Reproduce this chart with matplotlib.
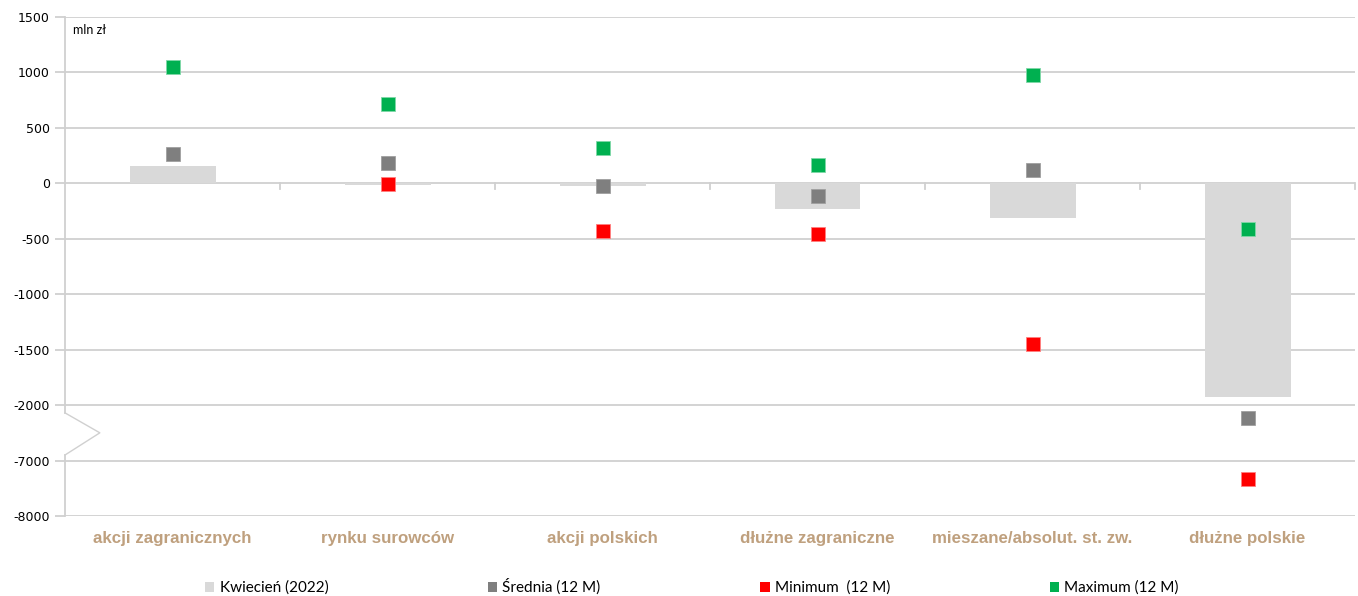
import numpy as np
import matplotlib
matplotlib.use("Agg")
import matplotlib.pyplot as plt
from matplotlib.patches import Patch
import matplotlib.transforms as mtransforms

categories = ["akcji zagranicznych", "rynku surowców", "akcji polskich",
              "dłużne zagraniczne", "mieszane/absolut. st. zw.", "dłużne polskie"]
kwiecien = [160, -18, -25, -230, -315, -1930]
srednia = [265, 185, -23, -113, 122, -3170]
minimum = [np.nan, -5, -429, -456, -1449, -7335]
maximum = [1050, 717, 320, 167, 979, -411]

ytick_vals = [1500, 1000, 500, 0, -500, -1000, -1500, -2000, -7000, -8000]
legend_labels = ["Kwiecień (2022)", "Średnia (12 M)", "Minimum  (12 M)", "Maximum (12 M)"]

# broken axis mapping: real values -> display values
real_pts = [-8000, -7000, -2000, 1500]
disp_pts = [-3000, -2500, -2000, 1500]
def fwd(v):
    return np.interp(v, real_pts, disp_pts)
def inv(d):
    return np.interp(d, disp_pts, real_pts)

plt.rcParams['font.family'] = ['Lato', 'DejaVu Sans']

fig = plt.figure(figsize=(13.58, 5.96), dpi=100)
ax = fig.add_axes([65/1358, 1 - 516/596, 1290/1358, (516 - 17)/596])
ax.set_yscale('function', functions=(fwd, inv))
ax.set_ylim(-8000, 1500)
ax.set_xlim(-0.5, len(categories) - 0.5)

x = np.arange(len(categories))
grid_c = '#D0D0D0'
for v in ytick_vals:
    ax.axhline(v, color=grid_c, lw=1.3, zorder=0)

ax.bar(x, kwiecien, width=0.4, color='#D9D9D9', zorder=2)

ms = 10
ax.plot(x, srednia, 's', color='#7F7F7F', ms=ms, mec='#A0A0A0', mew=0.6, ls='none', zorder=4)
ax.plot(x, minimum, 's', color='#FF0000', ms=ms, mec='#FF8080', mew=0.6, ls='none', zorder=4)
ax.plot(x, maximum, 's', color='#00B050', ms=ms, mec='#80D8A8', mew=0.6, ls='none', zorder=4)

# category boundary ticks on the zero line
for b in np.arange(-0.5, len(categories), 1.0)[1:]:
    ax.plot([b, b], [0, -50], color=grid_c, lw=1.3, zorder=1, clip_on=False)

# left spine with break mark
for s in ax.spines.values():
    s.set_visible(False)
trans = mtransforms.blended_transform_factory(ax.transAxes, ax.transData)
ax.plot([0, 0], [1500, -2700], color=grid_c, lw=1.3, transform=trans, clip_on=False)
ax.plot([0, 0.027, 0], [-2700, -4500, -6500], color=grid_c, lw=1.0, transform=trans, clip_on=False)
ax.plot([0, 0], [-6500, -8000], color=grid_c, lw=1.3, transform=trans, clip_on=False)

ax.set_yticks(ytick_vals)
ax.set_yticklabels([str(v) for v in ytick_vals], fontfamily='DejaVu Sans')
ax.tick_params(axis='y', length=7, width=1.3, color=grid_c, pad=4, labelsize=9, labelcolor='black')
ax.yaxis.set_minor_locator(matplotlib.ticker.NullLocator())

ax.set_xticks(x)
ax.set_xticklabels(categories, fontfamily='Liberation Sans', fontweight='bold',
                   fontsize=12.2, color='#BFA07E', va='baseline')
ax.tick_params(axis='x', length=0, pad=19.4)

ax.text(0.006, 0.985, 'mln zł', transform=ax.transAxes, ha='left', va='top', fontsize=9)

handles = [Patch(facecolor='#D9D9D9', edgecolor='none'),
           Patch(facecolor='#7F7F7F', edgecolor='none'),
           Patch(facecolor='#FF0000', edgecolor='none'),
           Patch(facecolor='#00B050', edgecolor='none')]
leg = fig.legend(handles, legend_labels, loc='center', bbox_to_anchor=(692/1358, 1 - 587/596),
                 ncol=4, frameon=False, fontsize=11, handlelength=0.6, handleheight=0.6,
                 handletextpad=0.35, columnspacing=10.45)

fig.savefig('out.png', dpi=100, facecolor='white')
